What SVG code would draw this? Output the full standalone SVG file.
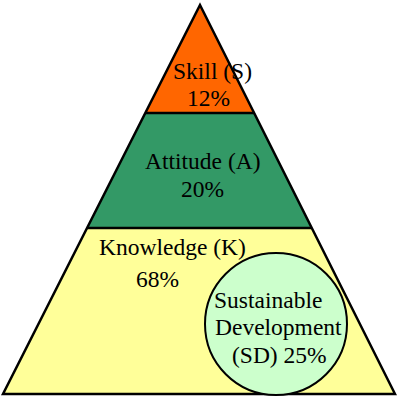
<svg xmlns="http://www.w3.org/2000/svg" width="397" height="398" viewBox="0 0 397 398">
  <style>
    .lbl { font-family: "Liberation Serif", "Times New Roman", serif; font-size: 23.5px; fill: #000; }
    .sep { stroke: #000; stroke-width: 2.5; }
    .edge { fill: none; stroke: #000; stroke-width: 2.5; stroke-linejoin: miter; }
  </style>
  <rect width="397" height="398" fill="#ffffff"/>

  <!-- bottom tier: knowledge -->
  <g id="knowledge">
    <polygon points="87.1,228 311.7,228 395,394 3,394" fill="#ffff99"/>
    <text class="lbl" x="99" y="255">Knowledge (K)</text>
    <text class="lbl" x="136" y="287">68%</text>
  </g>

  <!-- middle tier: attitude -->
  <g id="attitude">
    <polygon points="145.3,113 254.1,113 311.7,228 87.1,228" fill="#339966"/>
    <text class="lbl" x="145" y="169">Attitude (A)</text>
    <text class="lbl" x="181" y="197">20%</text>
  </g>

  <!-- top tier: skill -->
  <g id="skill">
    <polygon points="200,5 254.1,113 145.3,113" fill="#ff6600"/>
    <text class="lbl" x="173" y="79">Skill (S)</text>
    <text class="lbl" x="187" y="106">12%</text>
  </g>

  <!-- tier dividers and pyramid outline -->
  <line class="sep" x1="145.3" y1="113" x2="254.1" y2="113"/>
  <line class="sep" x1="87.1" y1="228" x2="311.7" y2="228"/>
  <polygon class="edge" points="200,5 395,394 3,394"/>

  <!-- sustainable development share inside knowledge -->
  <g id="sd">
    <circle cx="276" cy="324" r="71" fill="#ccffcc" stroke="#000" stroke-width="2"/>
    <text class="lbl" x="214" y="308">Sustainable</text>
    <text class="lbl" x="215" y="335">Development</text>
    <text class="lbl" x="232" y="363">(SD) 25%</text>
  </g>
</svg>
